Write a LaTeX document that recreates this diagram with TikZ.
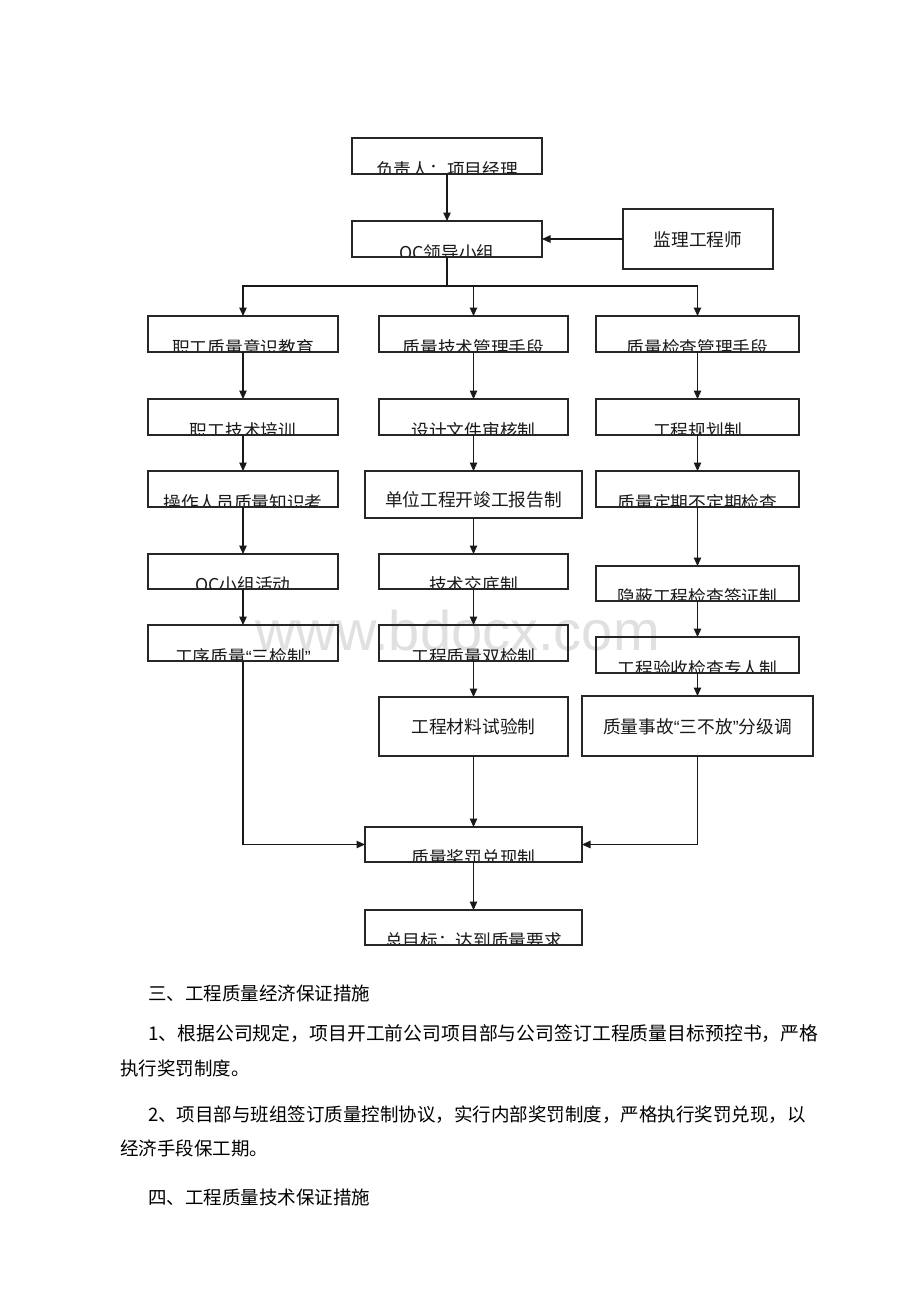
\documentclass[tikz,border=0pt]{standalone}
\usepackage{fontspec}
\newfontfamily\cjk{Noto Sans CJK SC}
\newfontfamily\lat{Liberation Sans}
\usetikzlibrary{arrows.meta}
\tikzset{
  boxst/.style={draw=black!85, line width=1.1pt, inner sep=0pt, outer sep=0pt, rectangle},
  boxtext/.style={inner sep=0pt, text=black!90, font=\cjk\fontsize{17.7}{20}\selectfont},
  arr/.style={line width=1.1pt, draw=black!90, -{Triangle[length=8.5pt,width=7.5pt]}},
  ln/.style={line width=1.1pt, draw=black!90},
  para/.style={anchor=west, inner sep=0pt, text=black, font=\cjk\fontsize{18.5}{22}\selectfont},
}
% clipped-text box: name x1 y1 x2 y2 text
\newcommand\qbox[6]{%
  \begin{scope}
    \clip (#2,#3) rectangle (#4,#5);
    \node[boxtext, anchor=base] (#1t) at ({(#2+#4)/2},{#5+2.5}) {#6};
  \end{scope}
  \node[boxst, minimum width={(#4-#2)*1pt}, minimum height={(#5-#3)*1pt}] (#1) at ({(#2+#4)/2},{(#3+#5)/2}) {};
}
% full-text box: name x1 y1 x2 y2 text texty
\newcommand\tbox[7]{%
  \node[boxst, minimum width={(#4-#2)*1pt}, minimum height={(#5-#3)*1pt}] (#1) at ({(#2+#4)/2},{(#3+#5)/2}) {};
  \node[boxtext] (#1t) at ({(#2+#4)/2},#7) {#6};
}
\begin{document}
\begin{tikzpicture}[x=1pt,y=-1pt]
\fill[white] (0,0) rectangle (920,1302);
\useasboundingbox (0,0) rectangle (920,1302);
% watermark
\node[anchor=base west, inner sep=0pt, text=black!12, font=\lat\fontsize{56}{60}\selectfont] (wm) at (255,650) {www.bdocx.com};

\qbox{b1}{352}{138}{542}{174}{负责人：项目经理}
\qbox{qc}{352}{221}{542}{257}{QC领导小组}
\tbox{jl}{623}{209}{773}{269}{监理工程师}{240}

\qbox{l1}{148}{316}{338}{352}{职工质量意识教育}
\qbox{m1}{379}{316}{568}{352}{质量技术管理手段}
\qbox{r1}{596}{316}{799}{352}{质量检查管理手段}

\qbox{l2}{148}{399}{338}{435}{职工技术培训}
\qbox{m2}{379}{399}{568}{435}{设计文件审核制}
\qbox{r2}{596}{399}{799}{435}{工程规划制}

\qbox{l3}{148}{471}{338}{507}{操作人员质量知识考}
\tbox{m3}{365}{471}{582}{518}{单位工程开竣工报告制}{500}
\qbox{r3}{596}{471}{799}{507}{质量定期不定期检查}

\qbox{l4}{148}{554}{338}{589}{QC小组活动}
\qbox{m4}{379}{554}{568}{589}{技术交底制}
\qbox{r4}{596}{566}{799}{601}{隐蔽工程检查签证制}

\qbox{l5}{148}{625}{338}{661}{工序质量{\lat “}三检制{\lat ”}}
\qbox{m5}{379}{625}{568}{661}{工程质量双检制}
\qbox{r5}{596}{637}{799}{673}{工程验收检查专人制}

\tbox{m6}{379}{697}{568}{756}{工程材料试验制}{726.5}
\tbox{r6}{582}{696}{813}{756}{质量事故{\lat “}三不放{\lat ”}分级调}{726.5}

\qbox{jf}{365}{827}{582}{862}{质量奖罚兑现制}
\qbox{zm}{365}{910}{582}{945}{总目标：达到质量要求}

% connectors
\draw[arr] (b1) -- (qc);
\draw[arr] (jl) -- (qc);
\draw[ln] (qc.south) -- (qc.south |- 0,286) coordinate (br);
\draw[arr] (br) -| (l1.north);
\draw[arr] (br) -| (m1.north);
\draw[arr] (br) -| (r1.north);

\draw[arr] (l1) -- (l2);
\draw[arr] (l2) -- (l3);
\draw[arr] (l3) -- (l4);
\draw[arr] (l4) -- (l5);
\draw[arr] (l5.south) |- (jf.west);

\draw[arr] (m1) -- (m2);
\draw[arr] (m2) -- (m3);
\draw[arr] (m3) -- (m4);
\draw[arr] (m4) -- (m5);
\draw[arr] (m5) -- (m6);
\draw[arr] (m6) -- (jf);

\draw[arr] (r1) -- (r2);
\draw[arr] (r2) -- (r3);
\draw[arr] (r3) -- (r4);
\draw[arr] (r4) -- (r5);
\draw[arr] (r5) -- (r6);
\draw[arr] (r6.south) |- (jf.east);

\draw[arr] (jf) -- (zm);

% body text
\node[para] (p0) at (148,993) {三、工程质量经济保证措施};
\node[para, font=\cjk\fontsize{18.85}{22}\selectfont] (p1a) at (148,1034) {1、根据公司规定，项目开工前公司项目部与公司签订工程质量目标预控书，严格};
\node[para] (p1b) at (120,1068) {执行奖罚制度。};
\node[para] (p2a) at (148,1115) {2、项目部与班组签订质量控制协议，实行内部奖罚制度，严格执行奖罚兑现，以};
\node[para] (p2b) at (120,1148) {经济手段保工期。};
\node[para] (p3) at (148,1197) {四、工程质量技术保证措施};
\end{tikzpicture}
\end{document}
